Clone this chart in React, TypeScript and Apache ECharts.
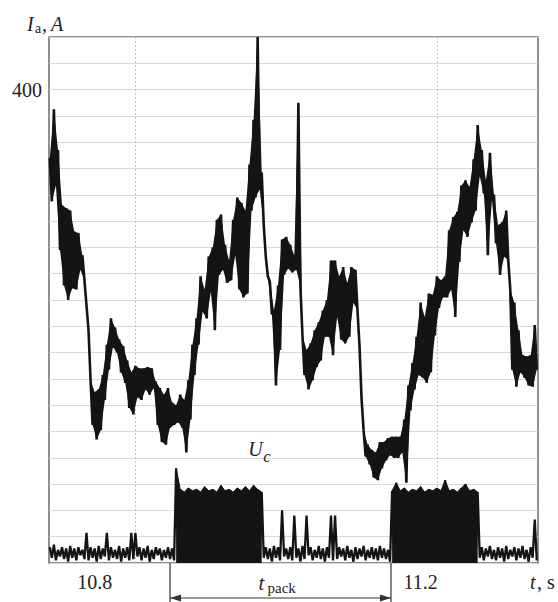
import React, { useEffect, useRef } from "react";
import * as echarts from "echarts";

const sampleTime = [
  10.745, 10.75, 10.755, 10.76, 10.765, 10.77, 10.775, 10.78, 10.785, 10.79,
  10.795, 10.8, 10.805, 10.81, 10.815, 10.82, 10.825, 10.83, 10.835, 10.84,
  10.845, 10.85, 10.855, 10.86, 10.865, 10.87, 10.875, 10.88, 10.885, 10.89,
  10.895, 10.9, 10.905, 10.91, 10.915, 10.92, 10.925, 10.93, 10.935, 10.94,
  10.945, 10.95, 10.955, 10.96, 10.965, 10.97, 10.975, 10.98, 10.985, 10.99,
  10.995, 11.0, 11.005, 11.01, 11.015, 11.02, 11.025, 11.03, 11.035, 11.04,
  11.045, 11.05, 11.055, 11.06, 11.065, 11.07, 11.075, 11.08, 11.085, 11.09,
  11.095, 11.1, 11.105, 11.11, 11.115, 11.12, 11.125, 11.13, 11.135, 11.14,
  11.145, 11.15, 11.155, 11.16, 11.165, 11.17, 11.175, 11.18, 11.185, 11.19,
  11.195, 11.2, 11.205, 11.21, 11.215, 11.22, 11.225, 11.23, 11.235, 11.24,
  11.245, 11.25, 11.255, 11.26, 11.265, 11.27, 11.275, 11.28, 11.285, 11.29,
  11.295, 11.3, 11.305, 11.31, 11.315, 11.32, 11.325, 11.33, 11.335, 11.34,
];

// armature current Ia (A): upper and lower edge of the noisy trace
const iaHigh = [
  348, 385, 354, 312, 310, 308, 292, 291, 274, 236,
  179, 170, 172, 183, 206, 226, 219, 210, 205, 194,
  185, 190, 188, 188, 189, 188, 178, 173, 168, 173,
  162, 160, 168, 164, 179, 206, 226, 258, 248, 273,
  280, 301, 305, 282, 270, 301, 318, 314, 308, 343,
  377, 440, 337, 273, 254, 232, 251, 286, 288, 282,
  274, 390, 213, 202, 207, 217, 223, 232, 240, 270,
  270, 258, 265, 253, 265, 263, 205, 141, 130, 126,
  124, 132, 132, 135, 136, 136, 136, 149, 175, 192,
  212, 238, 227, 245, 244, 258, 255, 258, 293, 303,
  307, 327, 331, 326, 347, 373, 354, 331, 352, 320,
  297, 299, 308, 248, 238, 217, 198, 197, 198, 221,
];
const iaLow = [
  315, 327, 278, 251, 240, 249, 248, 263, 255, 217,
  145, 134, 141, 164, 187, 204, 200, 185, 177, 158,
  153, 166, 164, 172, 168, 173, 145, 132, 130, 143,
  145, 147, 143, 124, 149, 183, 206, 231, 226, 246,
  217, 259, 263, 253, 255, 274, 248, 242, 245, 308,
  318, 324, 297, 258, 229, 175, 202, 259, 264, 261,
  263, 250, 183, 172, 179, 189, 194, 212, 212, 198,
  227, 210, 207, 212, 238, 232, 165, 121, 115, 105,
  103, 112, 118, 122, 120, 120, 124, 101, 156, 172,
  183, 181, 177, 185, 213, 234, 242, 242, 248, 227,
  269, 293, 288, 299, 308, 334, 321, 274, 316, 283,
  259, 273, 270, 187, 174, 185, 181, 175, 174, 187,
];

// control voltage Uc trace (drawn in the same plot units)
const ucHigh = [
  52, 54, 50, 52, 51, 53, 51, 52, 50, 63,
  52, 51, 53, 51, 63, 52, 50, 53, 51, 52,
  63, 63, 52, 51, 53, 50, 52, 51, 50, 52,
  51, 112, 96, 94, 97, 95, 96, 94, 98, 95,
  96, 94, 99, 95, 96, 94, 97, 95, 98, 95,
  99, 96, 94, 52, 51, 53, 52, 80, 51, 52,
  76, 51, 53, 76, 52, 50, 53, 51, 52, 76,
  76, 52, 51, 53, 50, 52, 51, 53, 50, 52,
  51, 53, 51, 50, 95, 101, 95, 97, 94, 96,
  95, 98, 94, 96, 95, 97, 95, 103, 95, 96,
  94, 97, 100, 95, 96, 94, 52, 51, 53, 50,
  52, 51, 53, 50, 52, 51, 53, 50, 52, 73,
];
const ucLow = [
  44, 42, 45, 43, 41, 44, 42, 46, 43, 42,
  44, 41, 43, 45, 42, 44, 43, 41, 44, 42,
  43, 45, 42, 44, 41, 43, 46, 42, 44, 43,
  42, 44, 43, 41, 45, 42, 44, 43, 42, 45,
  43, 41, 44, 42, 45, 43, 41, 44, 42, 43,
  45, 42, 44, 43, 41, 44, 42, 45, 43, 42,
  44, 41, 43, 46, 42, 44, 43, 41, 44, 42,
  43, 45, 42, 44, 41, 43, 45, 42, 44, 43,
  42, 44, 43, 41, 45, 42, 44, 43, 42, 45,
  43, 41, 44, 42, 46, 43, 41, 44, 42, 43,
  45, 42, 44, 43, 41, 44, 42, 45, 43, 42,
  44, 41, 43, 45, 42, 44, 43, 41, 44, 42,
];

// pulse packs of Uc (s)
const packStart = [10.8975, 11.1645];
const packEnd = [11.0085, 11.2725];
// t_pack dimension (s)
const tPackFrom = 10.8925;
const tPackTo = 11.1636;

const xTickLabels = [10.8, 11.2];
const yTickLabels = [400];
const vGridTimes = [10.846, 11.218];
const uLabelPoint = [11.008, 128];

const SERIF = "Liberation Serif";
const INK = "#141414";

function midTime(k: number) {
  const t = sampleTime[k];
  const tn = k + 1 < sampleTime.length ? sampleTime[k + 1] : t + (t - sampleTime[k - 1]);
  return (t + tn) / 2;
}

function zigzag(hi: number[], lo: number[]) {
  const out: number[][] = [];
  for (let k = 0; k < sampleTime.length; k++) {
    out.push([sampleTime[k], hi[k]]);
    out.push([midTime(k), lo[k]]);
  }
  return out;
}

function packData(p: number) {
  const out: number[][] = [];
  for (let k = 0; k < sampleTime.length; k++) {
    const t = sampleTime[k];
    if (t >= packStart[p] && t <= packEnd[p]) out.push([t, ucHigh[k]]);
  }
  return out;
}

export default function App() {
  const ref = useRef<HTMLDivElement>(null);
  useEffect(() => {
    if (!ref.current) return;
    const chart = echarts.init(ref.current, undefined, { renderer: "svg" });
    const option: any = {
      animation: false,
      grid: {
        left: 49,
        right: 20,
        top: 37,
        bottom: 39,
        show: true,
        borderColor: "#6a6a6a",
        borderWidth: 1.5,
      },
      xAxis: {
        type: "value",
        min: 10.744,
        max: 11.344,
        axisLine: { show: false },
        axisTick: { show: false },
        splitLine: { show: false },
        axisLabel: {
          customValues: xTickLabels,
          formatter: (v: number) => v.toFixed(1),
          fontFamily: SERIF,
          fontSize: 20,
          color: "#222",
          margin: 9,
        },
      },
      yAxis: {
        type: "value",
        min: 40,
        max: 440,
        interval: 20,
        axisLine: { show: false },
        axisTick: { show: false },
        splitLine: { show: true, lineStyle: { color: "#d9d9d9", width: 1 } },
        axisLabel: {
          formatter: (v: number) => (yTickLabels.indexOf(v) >= 0 ? String(v) : ""),
          fontFamily: SERIF,
          fontSize: 20,
          color: "#222",
          margin: 7,
        },
      },
      series: [
        {
          type: "line",
          name: "pack1",
          data: packData(0),
          symbol: "none",
          silent: true,
          lineStyle: { color: INK, width: 1 },
          areaStyle: { color: INK, opacity: 1, origin: "start" },
          markLine: {
            silent: true,
            z: 1,
            symbol: "none",
            label: { show: false },
            lineStyle: { color: "#c4c4c4", type: [2, 2], width: 1 },
            data: vGridTimes.map((t) => ({ xAxis: t })),
          },
        },
        {
          type: "line",
          name: "pack2",
          data: packData(1),
          symbol: "none",
          silent: true,
          lineStyle: { color: INK, width: 1 },
          areaStyle: { color: INK, opacity: 1, origin: "start" },
        },
        {
          type: "line",
          name: "Uc",
          data: zigzag(ucHigh, ucLow),
          symbol: "none",
          silent: true,
          lineStyle: { color: INK, width: 2.3 },
        },
        {
          type: "custom",
          name: "IaBand",
          silent: true,
          clip: true,
          data: [[sampleTime[0], iaHigh[0]]],
          renderItem: (_params: any, api: any) => {
            const pts: number[][] = [];
            for (let k = 0; k < sampleTime.length; k++) {
              pts.push(api.coord([sampleTime[k], iaHigh[k]]));
            }
            for (let k = sampleTime.length - 1; k >= 0; k--) {
              pts.push(api.coord([midTime(k), iaLow[k]]));
            }
            return { type: "polygon", shape: { points: pts }, style: { fill: INK } };
          },
        },
        {
          type: "line",
          name: "Ia",
          data: zigzag(iaHigh, iaLow),
          symbol: "none",
          silent: true,
          lineStyle: { color: INK, width: 2.6 },
        },
      ],
    };
    chart.setOption(option);

    const gx = (t: number) => chart.convertToPixel({ xAxisIndex: 0 }, t) as number;
    const gy = (v: number) => chart.convertToPixel({ yAxisIndex: 0 }, v) as number;
    const x1 = gx(tPackFrom);
    const x2 = gx(tPackTo);
    const yb = gy(40);
    const ya = yb + 35;
    const ux = gx(uLabelPoint[0]);
    const uy = gy(uLabelPoint[1]);
    const dim = { stroke: "#333", lineWidth: 1.2 };
    const txt = (x: number, y: number, text: string, size: number, italic: boolean) => ({
      type: "text",
      x,
      y,
      silent: true,
      style: {
        text,
        fontFamily: SERIF,
        fontSize: size,
        fontStyle: italic ? "italic" : "normal",
        fill: "#222",
        verticalAlign: "top",
      },
    });
    chart.setOption({
      graphic: [
        { type: "line", silent: true, shape: { x1, y1: yb, x2: x1, y2: yb + 42 }, style: dim },
        { type: "line", silent: true, shape: { x1: x2, y1: yb, x2, y2: yb + 42 }, style: dim },
        { type: "line", silent: true, shape: { x1, y1: ya, x2, y2: ya }, style: dim },
        {
          type: "polygon",
          silent: true,
          shape: { points: [[x1, ya], [x1 + 11, ya - 3.5], [x1 + 11, ya + 3.5]] },
          style: { fill: "#333" },
        },
        {
          type: "polygon",
          silent: true,
          shape: { points: [[x2, ya], [x2 - 11, ya - 3.5], [x2 - 11, ya + 3.5]] },
          style: { fill: "#333" },
        },
        txt((x1 + x2) / 2 - 22, yb + 9, "t", 21, true),
        txt((x1 + x2) / 2 - 13, yb + 17, "pack", 15, false),
        txt(ux - 16, uy - 8, "U", 20, true),
        txt(ux - 1, uy + 1, "c", 17, true),
        txt(27, 14, "I", 20, true),
        txt(35, 21, "a", 14, false),
        txt(42, 14, ",", 20, false),
        txt(51, 14, "A", 20, true),
        txt(530, yb + 9, "t", 20, true),
        txt(537, yb + 9, ", s", 20, false),
      ],
    });
    return () => chart.dispose();
  }, []);
  return (
    <div
      ref={ref}
      style={{ position: "absolute", left: 0, top: 0, width: 558, height: 602, background: "#fff" }}
    />
  );
}
